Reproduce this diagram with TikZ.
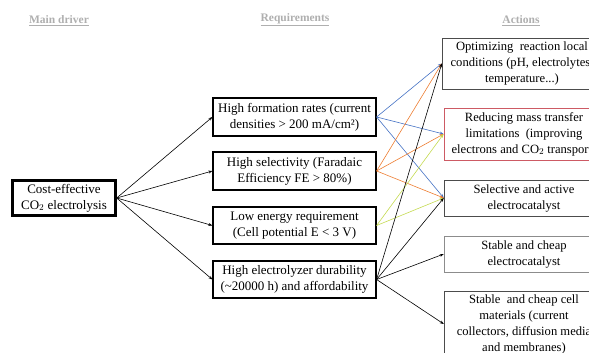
\documentclass[tikz,border=0pt]{standalone}
\usepackage{fontspec}
\setmainfont{Liberation Serif}
\usetikzlibrary{arrows.meta}

\definecolor{headgray}{RGB}{175,175,175}
\definecolor{linkblue}{RGB}{68,114,196}
\definecolor{linkorange}{RGB}{237,125,49}
\definecolor{linklime}{RGB}{196,218,80}
\definecolor{boxred}{RGB}{205,90,100}

\tikzset{
  heading/.style={text=headgray,font=\fontsize{11.5}{13}\selectfont\bfseries},
  reqbox/.style={draw=black,very thick,align=center,minimum width=163pt,inner sep=1pt,font=\fontsize{13}{16}\selectfont},
  actbox/.style={draw=black!70,align=center,minimum width=160pt,inner sep=1pt,font=\fontsize{12.6}{16}\selectfont},
  link/.style={-{Stealth[length=4pt,width=3pt]},semithick}
}

\begin{document}
\begin{tikzpicture}[x=1pt,y=-1pt]
    \useasboundingbox (0,0) rectangle (589,353);

    % The column headings
    \node[heading] (hmain) at (59,21) {\underline{Main driver}};
    \node[heading] (hreq) at (295,20) {\underline{Requirements}};
    \node[heading] (hact) at (521,21) {\underline{Actions}};

    % The main driver
    \node[draw=black,line width=2.4pt,align=center,minimum width=103pt,minimum height=35pt,inner sep=1pt,font=\fontsize{13}{16}\selectfont]
      (driver) at (64,198) {Cost-effective\\CO$_2$ electrolysis};

    % The requirements
    \node[reqbox,minimum height=38pt] (rate) at (294.5,117) {High formation rates (current\\densities > 200 mA/cm²)};
    \node[reqbox,minimum height=38pt] (select) at (294.5,171) {High selectivity (Faradaic\\Efficiency FE > 80\%)};
    \node[reqbox,minimum height=37pt] (energy) at (294.5,225.5) {Low energy requirement\\(Cell potential E < 3 V)};
    \node[reqbox,minimum height=37pt] (durable) at (294.5,279.5) {High electrolyzer durability\\(\textasciitilde20000 h) and affordability};

    % The actions
    \node[actbox,minimum height=51pt] (optim) at (522,63.5) {Optimizing\ \ reaction local\\conditions (pH, electrolytes,\\temperature...)};
    \node[actbox,draw=boxred,thick,minimum height=52pt] (masstr) at (524,134) {Reducing mass transfer\\limitations\ \ (improving\\electrons and CO$_2$ transport)};
    \node[actbox,minimum height=36pt] (catal) at (524,198) {Selective and active\\electrocatalyst};
    \node[actbox,draw=black!45,minimum height=36pt] (stable) at (524,254) {Stable and cheap\\electrocatalyst};
    \node[actbox,minimum height=66pt] (cell) at (524,324) {Stable\ \ and cheap cell\\materials (current\\collectors, diffusion media\\and membranes)};

    % From the main driver to the requirements
    \draw[link] (driver.east) -- (rate.west);
    \draw[link] (driver.east) -- (select.west);
    \draw[link] (driver.east) -- (energy.west);
    \draw[link] (driver.east) -- (durable.west);

    % From the requirements to the actions
    \draw[link,linkblue] (rate.east) -- (optim.west);
    \draw[link,linkblue] (rate.east) -- (masstr.west);
    \draw[link,linkblue] (rate.east) -- (catal.west);
    \draw[link,linkorange] (select.east) -- (optim.west);
    \draw[link,linkorange] (select.east) -- (masstr.west);
    \draw[link,linkorange] (select.east) -- (catal.west);
    \draw[link,linklime] (energy.east) -- (masstr.west);
    \draw[link,linklime] (energy.east) -- (catal.west);
    \draw[link] (durable.east) -- (optim.west);
    \draw[link] (durable.east) -- (catal.west);
    \draw[link] (durable.east) -- (stable.west);
    \draw[link] (durable.east) -- (cell.west);
  \end{tikzpicture}
\end{document}
